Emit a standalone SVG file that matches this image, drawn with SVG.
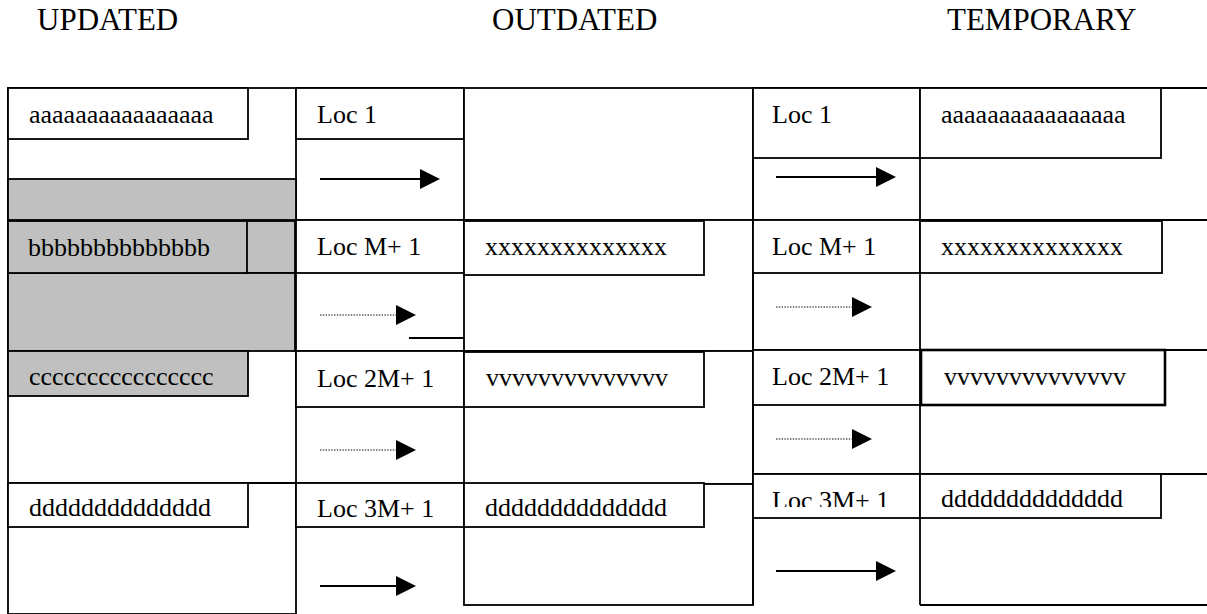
<svg xmlns="http://www.w3.org/2000/svg" width="1207" height="614" viewBox="0 0 1207 614">
  <style>
    .bg { fill: #ffffff; }
    .box { fill: #ffffff; stroke: #000000; stroke-width: 1.8; }
    .gray { fill: #c0c0c0; stroke: #000000; stroke-width: 1.8; }
    .ln { fill: none; stroke: #000000; stroke-width: 1.8; }
    .t { font-family: "Liberation Serif", "Times New Roman", serif; font-size: 26px; fill: #000000; }
    .h { font-family: "Liberation Serif", "Times New Roman", serif; font-size: 31px; fill: #000000; }
    .solid { fill: none; stroke: #000000; stroke-width: 2; }
    .dot { fill: none; stroke: #000000; stroke-width: 1.2; stroke-dasharray: 1.4 1.4; }
  </style>
  <defs>
    <marker id="head" viewBox="0 0 20 20" refX="0" refY="10" markerWidth="20" markerHeight="20" markerUnits="userSpaceOnUse" orient="auto">
      <path d="M0,0 L20,10 L0,20 Z" fill="#000000"/>
    </marker>
    <clipPath id="clipLoc3T">
      <rect x="753" y="474" width="167" height="33"/>
    </clipPath>
  </defs>

  <rect class="bg" x="0" y="0" width="1207" height="614"/>

  <!-- column headings -->
  <g id="headings">
    <text class="h" x="37" y="30">UPDATED</text>
    <text class="h" x="492" y="30">OUTDATED</text>
    <text class="h" x="947" y="30">TEMPORARY</text>
  </g>

  <!-- UPDATED column -->
  <g id="updated">
    <rect class="box" x="8" y="88" width="288" height="526"/>
    <rect class="gray" x="8" y="179" width="288" height="41"/>
    <rect class="gray" x="8" y="221" width="287" height="52"/>
    <rect class="gray" x="8" y="273" width="287" height="78"/>
    <line class="ln" x1="8" y1="483" x2="296" y2="483"/>
  </g>
  <g id="upd-a">
    <rect class="box" x="8" y="88" width="240" height="51"/>
    <text class="t" x="29" y="123">aaaaaaaaaaaaaaaa</text>
  </g>
  <g id="upd-b">
    <rect class="gray" x="8" y="221" width="239" height="52"/>
    <text class="t" x="28" y="256">bbbbbbbbbbbbbb</text>
  </g>
  <g id="upd-c">
    <rect class="gray" x="8" y="351" width="240" height="45"/>
    <text class="t" x="29" y="385">cccccccccccccccc</text>
  </g>
  <g id="upd-d">
    <rect class="box" x="8" y="483" width="240" height="44"/>
    <text class="t" x="29" y="516">dddddddddddddd</text>
  </g>

  <!-- OUTDATED column: location cells -->
  <g id="out-loc">
    <line class="ln" x1="296" y1="88" x2="464" y2="88"/>
    <line class="ln" x1="296" y1="220" x2="464" y2="220"/>
    <line class="ln" x1="296" y1="351" x2="464" y2="351"/>
    <line class="ln" x1="296" y1="483" x2="464" y2="483"/>
    <line class="ln" x1="409" y1="338" x2="464" y2="338"/>
  </g>
  <g id="out-loc1">
    <rect class="box" x="296" y="88" width="168" height="51"/>
    <text class="t" x="317" y="123">Loc 1</text>
  </g>
  <g id="out-locM">
    <rect class="box" x="296" y="220" width="168" height="53"/>
    <text class="t" x="317" y="255">Loc M+ 1</text>
  </g>
  <g id="out-loc2M">
    <rect class="box" x="296" y="351" width="168" height="56"/>
    <text class="t" x="317" y="387">Loc 2M+ 1</text>
  </g>
  <g id="out-loc3M">
    <rect class="box" x="296" y="483" width="168" height="44"/>
    <text class="t" x="317" y="517">Loc 3M+ 1</text>
  </g>

  <!-- OUTDATED column: data cells -->
  <g id="out-data">
    <rect class="box" x="464" y="88" width="289" height="132"/>
    <rect class="box" x="464" y="220" width="289" height="131"/>
    <rect class="box" x="464" y="351" width="289" height="133"/>
    <rect class="box" x="464" y="484" width="289" height="121"/>
  </g>
  <g id="out-x">
    <rect class="box" x="464" y="221" width="240" height="54"/>
    <text class="t" x="485" y="255">xxxxxxxxxxxxxx</text>
  </g>
  <g id="out-v">
    <rect class="box" x="464" y="352" width="240" height="55"/>
    <text class="t" x="486" y="386">vvvvvvvvvvvvvv</text>
  </g>
  <g id="out-d">
    <rect class="box" x="464" y="483" width="240" height="44"/>
    <text class="t" x="485" y="516">dddddddddddddd</text>
  </g>

  <!-- TEMPORARY column -->
  <g id="temp">
    <line class="ln" x1="753" y1="88" x2="1207" y2="88"/>
    <line class="ln" x1="753" y1="88" x2="753" y2="605"/>
    <line class="ln" x1="920" y1="88" x2="920" y2="605"/>
    <line class="ln" x1="753" y1="220" x2="1207" y2="220"/>
    <line class="ln" x1="753" y1="350" x2="1207" y2="350"/>
    <line class="ln" x1="753" y1="474" x2="1207" y2="474"/>
    <line class="ln" x1="920" y1="605" x2="1207" y2="605"/>
  </g>
  <g id="tmp-loc1">
    <rect class="box" x="753" y="88" width="167" height="70"/>
    <text class="t" x="772" y="123">Loc 1</text>
  </g>
  <g id="tmp-a">
    <rect class="box" x="920" y="88" width="241" height="70"/>
    <text class="t" x="941" y="123">aaaaaaaaaaaaaaaa</text>
  </g>
  <g id="tmp-locM">
    <rect class="box" x="753" y="220" width="167" height="53"/>
    <text class="t" x="772" y="255">Loc M+ 1</text>
  </g>
  <g id="tmp-x">
    <rect class="box" x="920" y="221" width="242" height="52"/>
    <text class="t" x="941" y="255">xxxxxxxxxxxxxx</text>
  </g>
  <g id="tmp-loc2M">
    <rect class="box" x="753" y="350" width="167" height="55"/>
    <text class="t" x="772" y="385">Loc 2M+ 1</text>
  </g>
  <g id="tmp-v">
    <rect class="box" x="921" y="350" width="244" height="55" style="stroke-width:2.6"/>
    <text class="t" x="944" y="385">vvvvvvvvvvvvvv</text>
  </g>
  <g id="tmp-loc3M">
    <rect class="box" x="753" y="474" width="167" height="44"/>
    <text class="t" x="772" y="509" clip-path="url(#clipLoc3T)">Loc 3M+ 1</text>
  </g>
  <g id="tmp-d">
    <rect class="box" x="920" y="474" width="241" height="44"/>
    <text class="t" x="941" y="507">dddddddddddddd</text>
  </g>

  <!-- pointer arrows -->
  <g id="connectors">
    <line class="solid" x1="320" y1="179" x2="420" y2="179" marker-end="url(#head)"/>
    <line class="dot" x1="320" y1="315" x2="396" y2="315" marker-end="url(#head)"/>
    <line class="dot" x1="320" y1="450" x2="396" y2="450" marker-end="url(#head)"/>
    <line class="solid" x1="320" y1="586" x2="396" y2="586" marker-end="url(#head)"/>
    <line class="solid" x1="776" y1="177" x2="876" y2="177" marker-end="url(#head)"/>
    <line class="dot" x1="776" y1="307" x2="852" y2="307" marker-end="url(#head)"/>
    <line class="dot" x1="776" y1="439" x2="852" y2="439" marker-end="url(#head)"/>
    <line class="solid" x1="776" y1="571" x2="876" y2="571" marker-end="url(#head)"/>
  </g>
</svg>
